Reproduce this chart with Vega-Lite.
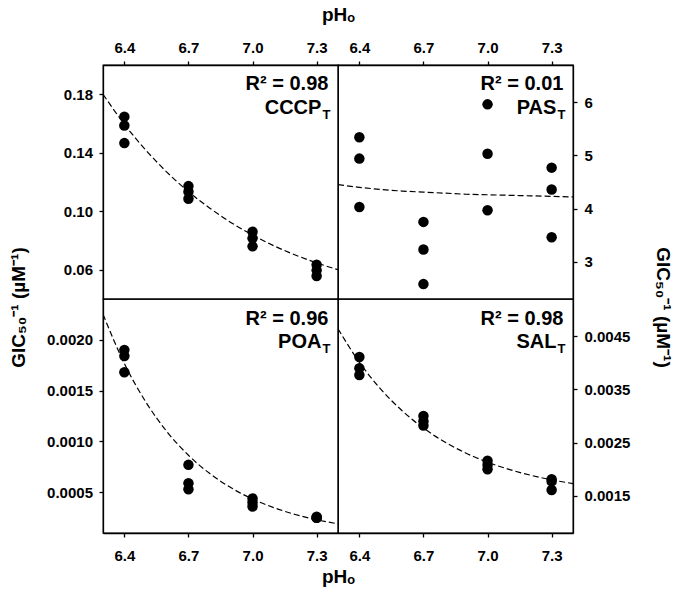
{
  "$schema": "https://vega.github.io/schema/vega-lite/v6.json",
  "padding": {"left": 8, "top": 4, "right": 0, "bottom": 0},
  "background": "white",
  "config": {
    "font": "Liberation Sans",
    "view": {"stroke": "black", "strokeWidth": 1.3},
    "axis": {
      "domainColor": "black", "domainWidth": 1.3,
      "tickColor": "black", "tickWidth": 1.3, "tickSize": 4,
      "labelFont": "Liberation Sans", "labelFontSize": 15, "labelFontWeight": "bold", "labelColor": "black",
      "titleFont": "Liberation Sans", "titleFontSize": 19, "titleFontWeight": "bold", "titleColor": "black",
      "grid": false
    }
  },
  "datasets": {
    "points": [
      {"drug": "CCCP", "ph": 6.4, "val": 0.1647}, {"drug": "CCCP", "ph": 6.4, "val": 0.1586}, {"drug": "CCCP", "ph": 6.4, "val": 0.1466},
      {"drug": "CCCP", "ph": 6.7, "val": 0.1172}, {"drug": "CCCP", "ph": 6.7, "val": 0.1134}, {"drug": "CCCP", "ph": 6.7, "val": 0.1086},
      {"drug": "CCCP", "ph": 7.0, "val": 0.0860}, {"drug": "CCCP", "ph": 7.0, "val": 0.0815}, {"drug": "CCCP", "ph": 7.0, "val": 0.0760},
      {"drug": "CCCP", "ph": 7.3, "val": 0.0634}, {"drug": "CCCP", "ph": 7.3, "val": 0.0596}, {"drug": "CCCP", "ph": 7.3, "val": 0.0557},
      {"drug": "PAS", "ph": 6.4, "val": 5.34}, {"drug": "PAS", "ph": 6.4, "val": 4.94}, {"drug": "PAS", "ph": 6.4, "val": 4.03},
      {"drug": "PAS", "ph": 6.7, "val": 3.75}, {"drug": "PAS", "ph": 6.7, "val": 3.23}, {"drug": "PAS", "ph": 6.7, "val": 2.58},
      {"drug": "PAS", "ph": 7.0, "val": 5.96}, {"drug": "PAS", "ph": 7.0, "val": 5.03}, {"drug": "PAS", "ph": 7.0, "val": 3.97},
      {"drug": "PAS", "ph": 7.3, "val": 4.77}, {"drug": "PAS", "ph": 7.3, "val": 4.36}, {"drug": "PAS", "ph": 7.3, "val": 3.46},
      {"drug": "POA", "ph": 6.4, "val": 0.00190}, {"drug": "POA", "ph": 6.4, "val": 0.00184}, {"drug": "POA", "ph": 6.4, "val": 0.00168},
      {"drug": "POA", "ph": 6.7, "val": 0.00077}, {"drug": "POA", "ph": 6.7, "val": 0.00059}, {"drug": "POA", "ph": 6.7, "val": 0.00053},
      {"drug": "POA", "ph": 7.0, "val": 0.00044}, {"drug": "POA", "ph": 7.0, "val": 0.00040}, {"drug": "POA", "ph": 7.0, "val": 0.00036},
      {"drug": "POA", "ph": 7.3, "val": 0.00026}, {"drug": "POA", "ph": 7.3, "val": 0.00025}, {"drug": "POA", "ph": 7.3, "val": 0.00025},
      {"drug": "SAL", "ph": 6.4, "val": 0.00411}, {"drug": "SAL", "ph": 6.4, "val": 0.00390}, {"drug": "SAL", "ph": 6.4, "val": 0.00377},
      {"drug": "SAL", "ph": 6.7, "val": 0.00300}, {"drug": "SAL", "ph": 6.7, "val": 0.00290}, {"drug": "SAL", "ph": 6.7, "val": 0.00282},
      {"drug": "SAL", "ph": 7.0, "val": 0.00216}, {"drug": "SAL", "ph": 7.0, "val": 0.00208}, {"drug": "SAL", "ph": 7.0, "val": 0.00200},
      {"drug": "SAL", "ph": 7.3, "val": 0.00181}, {"drug": "SAL", "ph": 7.3, "val": 0.00177}, {"drug": "SAL", "ph": 7.3, "val": 0.00161}
    ],
    "fits": [
      {"drug": "CCCP", "ph": 6.3, "val": 0.1800}, {"drug": "CCCP", "ph": 6.4, "val": 0.1595}, {"drug": "CCCP", "ph": 6.5, "val": 0.1419},
      {"drug": "CCCP", "ph": 6.6, "val": 0.1266}, {"drug": "CCCP", "ph": 6.7, "val": 0.1134}, {"drug": "CCCP", "ph": 6.8, "val": 0.1021},
      {"drug": "CCCP", "ph": 6.9, "val": 0.0922}, {"drug": "CCCP", "ph": 7.0, "val": 0.0838}, {"drug": "CCCP", "ph": 7.1, "val": 0.0764},
      {"drug": "CCCP", "ph": 7.2, "val": 0.0701}, {"drug": "CCCP", "ph": 7.3, "val": 0.0647}, {"drug": "CCCP", "ph": 7.4, "val": 0.0600},
      {"drug": "PAS", "ph": 6.3, "val": 4.45}, {"drug": "PAS", "ph": 6.4, "val": 4.40}, {"drug": "PAS", "ph": 6.5, "val": 4.36},
      {"drug": "PAS", "ph": 6.6, "val": 4.33}, {"drug": "PAS", "ph": 6.7, "val": 4.31}, {"drug": "PAS", "ph": 6.8, "val": 4.29},
      {"drug": "PAS", "ph": 6.9, "val": 4.27}, {"drug": "PAS", "ph": 7.0, "val": 4.26}, {"drug": "PAS", "ph": 7.1, "val": 4.25},
      {"drug": "PAS", "ph": 7.2, "val": 4.24}, {"drug": "PAS", "ph": 7.3, "val": 4.23}, {"drug": "PAS", "ph": 7.4, "val": 4.22},
      {"drug": "POA", "ph": 6.3, "val": 0.002250}, {"drug": "POA", "ph": 6.4, "val": 0.001766}, {"drug": "POA", "ph": 6.5, "val": 0.001389},
      {"drug": "POA", "ph": 6.6, "val": 0.001094}, {"drug": "POA", "ph": 6.7, "val": 0.000864}, {"drug": "POA", "ph": 6.8, "val": 0.000684},
      {"drug": "POA", "ph": 6.9, "val": 0.000544}, {"drug": "POA", "ph": 7.0, "val": 0.000434}, {"drug": "POA", "ph": 7.1, "val": 0.000349},
      {"drug": "POA", "ph": 7.2, "val": 0.000282}, {"drug": "POA", "ph": 7.3, "val": 0.000230}, {"drug": "POA", "ph": 7.4, "val": 0.000190},
      {"drug": "SAL", "ph": 6.3, "val": 0.004640}, {"drug": "SAL", "ph": 6.4, "val": 0.004010}, {"drug": "SAL", "ph": 6.5, "val": 0.003505},
      {"drug": "SAL", "ph": 6.6, "val": 0.003100}, {"drug": "SAL", "ph": 6.7, "val": 0.002774}, {"drug": "SAL", "ph": 6.8, "val": 0.002511},
      {"drug": "SAL", "ph": 6.9, "val": 0.002300}, {"drug": "SAL", "ph": 7.0, "val": 0.002131}, {"drug": "SAL", "ph": 7.1, "val": 0.001997},
      {"drug": "SAL", "ph": 7.2, "val": 0.001888}, {"drug": "SAL", "ph": 7.3, "val": 0.001800}, {"drug": "SAL", "ph": 7.4, "val": 0.001730}
    ],
    "labels": [
      {"drug": "CCCP", "r2": "R² = 0.98", "name": "CCCP", "sub": "T"},
      {"drug": "PAS", "r2": "R² = 0.01", "name": "PAS", "sub": "T"},
      {"drug": "POA", "r2": "R² = 0.96", "name": "POA", "sub": "T"},
      {"drug": "SAL", "r2": "R² = 0.98", "name": "SAL", "sub": "T"}
    ]
  },
  "columns": 2,
  "spacing": 0,
  "bounds": "flush",
  "concat": [
    {
      "width": 235, "height": 234,
      "layer": [
        {
          "data": {"name": "fits"}, "transform": [{"filter": "datum.drug === 'CCCP'"}],
          "mark": {"type": "line", "color": "black", "strokeDash": [6, 3], "strokeWidth": 1.2, "interpolate": "monotone", "clip": true},
          "encoding": {
            "x": {"field": "ph", "type": "quantitative", "scale": {"domain": [6.3, 7.4], "nice": false, "zero": false},
                  "axis": {"orient": "top", "values": [6.4, 6.7, 7.0, 7.3], "format": ".1f", "labelPadding": 6, "title": "pHₒ", "titleX": 235, "titleAlign": "center", "titlePadding": 16}},
            "y": {"field": "val", "type": "quantitative", "scale": {"domain": [0.04, 0.2], "nice": false, "zero": false},
                  "axis": {"orient": "left", "values": [0.06, 0.10, 0.14, 0.18], "format": ".2f", "labelPadding": 6.5, "title": null}}
          }
        },
        {
          "data": {"name": "points"}, "transform": [{"filter": "datum.drug === 'CCCP'"}],
          "mark": {"type": "point", "shape": "circle", "filled": true, "size": 110, "color": "black", "opacity": 1},
          "encoding": {"x": {"field": "ph", "type": "quantitative"}, "y": {"field": "val", "type": "quantitative"}}
        },
        {
          "data": {"name": "labels"}, "transform": [{"filter": "datum.drug === 'CCCP'"}],
          "mark": {"type": "text", "align": "right", "baseline": "alphabetic", "fontSize": 20, "fontWeight": "bold", "color": "black"},
          "encoding": {"x": {"datum": 7.355, "type": "quantitative"}, "y": {"datum": 0.1827, "type": "quantitative"}, "text": {"field": "r2"}}
        },
        {
          "data": {"name": "labels"}, "transform": [{"filter": "datum.drug === 'CCCP'"}],
          "mark": {"type": "text", "align": "right", "baseline": "alphabetic", "fontSize": 20, "fontWeight": "bold", "color": "black", "dx": -7},
          "encoding": {"x": {"datum": 7.355, "type": "quantitative"}, "y": {"datum": 0.1667, "type": "quantitative"}, "text": {"field": "name"}}
        },
        {
          "data": {"name": "labels"}, "transform": [{"filter": "datum.drug === 'CCCP'"}],
          "mark": {"type": "text", "align": "right", "baseline": "alphabetic", "fontSize": 13, "fontWeight": "bold", "color": "black", "dx": 2, "dy": 5},
          "encoding": {"x": {"datum": 7.355, "type": "quantitative"}, "y": {"datum": 0.1667, "type": "quantitative"}, "text": {"field": "sub"}}
        }
      ]
    },
    {
      "width": 235, "height": 234,
      "layer": [
        {
          "data": {"name": "fits"}, "transform": [{"filter": "datum.drug === 'PAS'"}],
          "mark": {"type": "line", "color": "black", "strokeDash": [6, 3], "strokeWidth": 1.2, "interpolate": "monotone", "clip": true},
          "encoding": {
            "x": {"field": "ph", "type": "quantitative", "scale": {"domain": [6.3, 7.4], "nice": false, "zero": false},
                  "axis": {"orient": "top", "values": [6.4, 6.7, 7.0, 7.3], "format": ".1f", "labelPadding": 6, "title": null}},
            "y": {"field": "val", "type": "quantitative", "scale": {"domain": [2.3, 6.7], "nice": false, "zero": false},
                  "axis": {"orient": "right", "values": [3, 4, 5, 6], "format": "d", "labelPadding": 7, "title": null}}
          }
        },
        {
          "data": {"name": "points"}, "transform": [{"filter": "datum.drug === 'PAS'"}],
          "mark": {"type": "point", "shape": "circle", "filled": true, "size": 110, "color": "black", "opacity": 1},
          "encoding": {"x": {"field": "ph", "type": "quantitative"}, "y": {"field": "val", "type": "quantitative"}}
        },
        {
          "data": {"name": "labels"}, "transform": [{"filter": "datum.drug === 'PAS'"}],
          "mark": {"type": "text", "align": "right", "baseline": "alphabetic", "fontSize": 20, "fontWeight": "bold", "color": "black"},
          "encoding": {"x": {"datum": 7.355, "type": "quantitative"}, "y": {"datum": 6.224, "type": "quantitative"}, "text": {"field": "r2"}}
        },
        {
          "data": {"name": "labels"}, "transform": [{"filter": "datum.drug === 'PAS'"}],
          "mark": {"type": "text", "align": "right", "baseline": "alphabetic", "fontSize": 20, "fontWeight": "bold", "color": "black", "dx": -7},
          "encoding": {"x": {"datum": 7.355, "type": "quantitative"}, "y": {"datum": 5.784, "type": "quantitative"}, "text": {"field": "name"}}
        },
        {
          "data": {"name": "labels"}, "transform": [{"filter": "datum.drug === 'PAS'"}],
          "mark": {"type": "text", "align": "right", "baseline": "alphabetic", "fontSize": 13, "fontWeight": "bold", "color": "black", "dx": 2, "dy": 5},
          "encoding": {"x": {"datum": 7.355, "type": "quantitative"}, "y": {"datum": 5.784, "type": "quantitative"}, "text": {"field": "sub"}}
        }
      ]
    },
    {
      "width": 235, "height": 234,
      "layer": [
        {
          "data": {"name": "fits"}, "transform": [{"filter": "datum.drug === 'POA'"}],
          "mark": {"type": "line", "color": "black", "strokeDash": [6, 3], "strokeWidth": 1.2, "interpolate": "monotone", "clip": true},
          "encoding": {
            "x": {"field": "ph", "type": "quantitative", "scale": {"domain": [6.3, 7.4], "nice": false, "zero": false},
                  "axis": {"orient": "bottom", "values": [6.4, 6.7, 7.0, 7.3], "format": ".1f", "labelPadding": 11, "title": "pHₒ", "titleX": 235, "titleAlign": "center", "titlePadding": 4}},
            "y": {"field": "val", "type": "quantitative", "scale": {"domain": [0.0001, 0.0024], "nice": false, "zero": false},
                  "axis": {"orient": "left", "values": [0.0005, 0.0010, 0.0015, 0.0020], "format": ".4f", "labelPadding": 6.5, "title": "GIC₅₀⁻¹ (µM⁻¹)", "titleY": 8, "titlePadding": 18}}
          }
        },
        {
          "data": {"name": "points"}, "transform": [{"filter": "datum.drug === 'POA'"}],
          "mark": {"type": "point", "shape": "circle", "filled": true, "size": 110, "color": "black", "opacity": 1},
          "encoding": {"x": {"field": "ph", "type": "quantitative"}, "y": {"field": "val", "type": "quantitative"}}
        },
        {
          "data": {"name": "labels"}, "transform": [{"filter": "datum.drug === 'POA'"}],
          "mark": {"type": "text", "align": "right", "baseline": "alphabetic", "fontSize": 20, "fontWeight": "bold", "color": "black"},
          "encoding": {"x": {"datum": 7.355, "type": "quantitative"}, "y": {"datum": 0.002144, "type": "quantitative"}, "text": {"field": "r2"}}
        },
        {
          "data": {"name": "labels"}, "transform": [{"filter": "datum.drug === 'POA'"}],
          "mark": {"type": "text", "align": "right", "baseline": "alphabetic", "fontSize": 20, "fontWeight": "bold", "color": "black", "dx": -7},
          "encoding": {"x": {"datum": 7.355, "type": "quantitative"}, "y": {"datum": 0.001921, "type": "quantitative"}, "text": {"field": "name"}}
        },
        {
          "data": {"name": "labels"}, "transform": [{"filter": "datum.drug === 'POA'"}],
          "mark": {"type": "text", "align": "right", "baseline": "alphabetic", "fontSize": 13, "fontWeight": "bold", "color": "black", "dx": 2, "dy": 5},
          "encoding": {"x": {"datum": 7.355, "type": "quantitative"}, "y": {"datum": 0.001921, "type": "quantitative"}, "text": {"field": "sub"}}
        }
      ]
    },
    {
      "width": 235, "height": 234,
      "layer": [
        {
          "data": {"name": "fits"}, "transform": [{"filter": "datum.drug === 'SAL'"}],
          "mark": {"type": "line", "color": "black", "strokeDash": [6, 3], "strokeWidth": 1.2, "interpolate": "monotone", "clip": true},
          "encoding": {
            "x": {"field": "ph", "type": "quantitative", "scale": {"domain": [6.3, 7.4], "nice": false, "zero": false},
                  "axis": {"orient": "bottom", "values": [6.4, 6.7, 7.0, 7.3], "format": ".1f", "labelPadding": 11, "title": null}},
            "y": {"field": "val", "type": "quantitative", "scale": {"domain": [0.0008, 0.0052], "nice": false, "zero": false},
                  "axis": {"orient": "right", "values": [0.0015, 0.0025, 0.0035, 0.0045], "format": ".4f", "labelPadding": 7, "title": "GIC₅₀⁻¹ (µM⁻¹)", "titleY": 8, "titlePadding": 23}}
          }
        },
        {
          "data": {"name": "points"}, "transform": [{"filter": "datum.drug === 'SAL'"}],
          "mark": {"type": "point", "shape": "circle", "filled": true, "size": 110, "color": "black", "opacity": 1},
          "encoding": {"x": {"field": "ph", "type": "quantitative"}, "y": {"field": "val", "type": "quantitative"}}
        },
        {
          "data": {"name": "labels"}, "transform": [{"filter": "datum.drug === 'SAL'"}],
          "mark": {"type": "text", "align": "right", "baseline": "alphabetic", "fontSize": 20, "fontWeight": "bold", "color": "black"},
          "encoding": {"x": {"datum": 7.355, "type": "quantitative"}, "y": {"datum": 0.004711, "type": "quantitative"}, "text": {"field": "r2"}}
        },
        {
          "data": {"name": "labels"}, "transform": [{"filter": "datum.drug === 'SAL'"}],
          "mark": {"type": "text", "align": "right", "baseline": "alphabetic", "fontSize": 20, "fontWeight": "bold", "color": "black", "dx": -7},
          "encoding": {"x": {"datum": 7.355, "type": "quantitative"}, "y": {"datum": 0.004284, "type": "quantitative"}, "text": {"field": "name"}}
        },
        {
          "data": {"name": "labels"}, "transform": [{"filter": "datum.drug === 'SAL'"}],
          "mark": {"type": "text", "align": "right", "baseline": "alphabetic", "fontSize": 13, "fontWeight": "bold", "color": "black", "dx": 2, "dy": 5},
          "encoding": {"x": {"datum": 7.355, "type": "quantitative"}, "y": {"datum": 0.004284, "type": "quantitative"}, "text": {"field": "sub"}}
        }
      ]
    }
  ]
}
